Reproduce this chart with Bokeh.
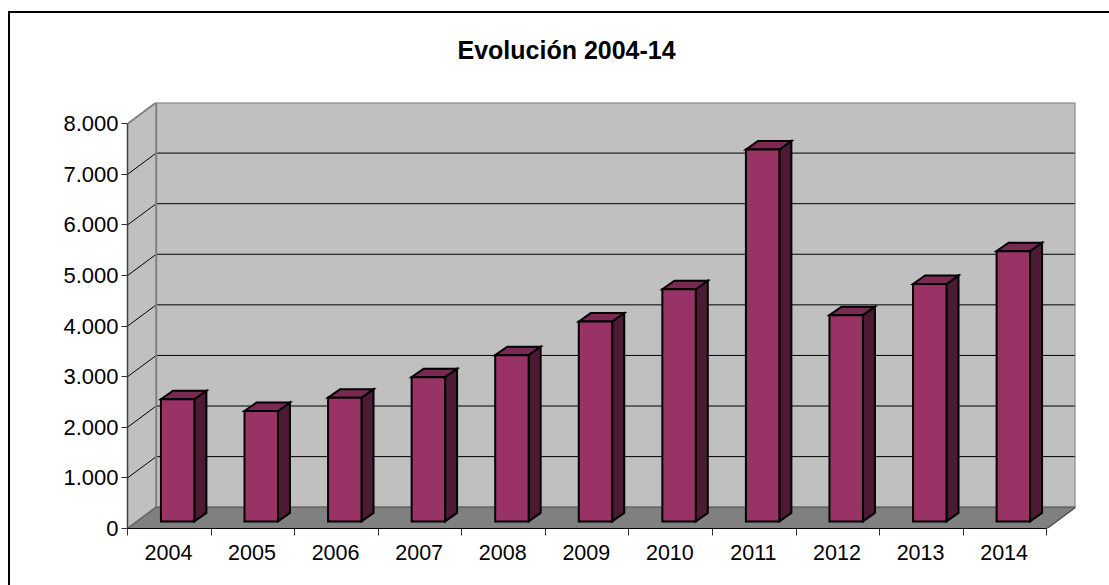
from bokeh.plotting import figure
from bokeh.embed import file_html
from bokeh.resources import INLINE
from bokeh.models import FixedTicker, Range1d, Title

years = ["2004", "2005", "2006", "2007", "2008", "2009", "2010", "2011", "2012", "2013", "2014"]
values = [2415, 2183, 2446, 2852, 3287, 3950, 4590, 7352, 4077, 4693, 5342]
y_ticks = [0, 1000, 2000, 3000, 4000, 5000, 6000, 7000, 8000]
y_labels = ["0", "1.000", "2.000", "3.000", "4.000", "5.000", "6.000", "7.000", "8.000"]
title = "Evolución 2004-14"

WALL_DX, WALL_DY = 0.344, 421
BAR_DX, BAR_DY = 0.144, 168
BASE_DX, BASE_DY = 0.10, 140
BAR_W = 0.40
n = len(years)
YMAX = y_ticks[-1]

p = figure(width=1109, height=585, output_backend="svg", toolbar_location=None,
           x_range=Range1d(0, n + WALL_DX), y_range=Range1d(0, YMAX + WALL_DY),
           frame_width=948, frame_height=426,
           min_border_left=127, min_border_right=34, min_border_top=102, min_border_bottom=57,
           tools="", title=title, background_fill_color="white", border_fill_color="white")
p.grid.visible = False
p.outline_line_color = None

p.title.text_font = "Liberation Sans"
p.title.text_font_style = "bold"
p.title.text_font_size = "25px"
p.title.text_color = "black"
p.title.align = "left"
p.title.offset = 330
p.title.standoff = 0
# blank strip between the title and the plot's frame
p.add_layout(Title(text=" ", text_font_size="10px", standoff=26), "above")

# walls and floor
GREY = "#C0C0C0"
EDGE = "#808080"
p.patches([[0, WALL_DX, WALL_DX, 0]], [[0, WALL_DY, YMAX + WALL_DY, YMAX]],
          fill_color=GREY, line_color=None)
p.quad(left=[WALL_DX], right=[n + WALL_DX], bottom=[WALL_DY], top=[YMAX + WALL_DY],
       fill_color=GREY, line_color=None)
p.patches([[0, n, n + WALL_DX, WALL_DX]], [[0, 0, WALL_DY, WALL_DY]],
          fill_color="#808080", line_color=None)

# gridlines
inner = y_ticks[1:-1]
p.multi_line([[0, WALL_DX, n + WALL_DX] for t in inner],
             [[t, t + WALL_DY, t + WALL_DY] for t in inner],
             line_color="black", line_width=1)

# wall edges
p.line([0, WALL_DX, n + WALL_DX, n + WALL_DX, n], [YMAX, YMAX + WALL_DY, YMAX + WALL_DY, WALL_DY, 0],
       line_color=EDGE, line_width=2)
p.line([WALL_DX, WALL_DX], [WALL_DY, YMAX + WALL_DY], line_color=EDGE, line_width=2)
p.line([0, WALL_DX, n + WALL_DX], [0, WALL_DY, WALL_DY], line_color="#6a6a6a", line_width=2)
p.line([n, n + WALL_DX], [0, WALL_DY], line_color="#404040", line_width=1)

# bars
lefts = [i + 0.5 + BASE_DX - BAR_W / 2 for i in range(n)]
rights = [l + BAR_W for l in lefts]
bottoms = [BASE_DY] * n
tops = [BASE_DY + v for v in values]
p.patches([[r, r + BAR_DX, r + BAR_DX, r] for r in rights],
          [[b, b + BAR_DY, t + BAR_DY, t] for b, t in zip(bottoms, tops)],
          fill_color="#4D1A33", line_color="black", line_width=2, line_join="miter")
p.patches([[l, l + BAR_DX, r + BAR_DX, r] for l, r in zip(lefts, rights)],
          [[t, t + BAR_DY, t + BAR_DY, t] for t in tops],
          fill_color="#7A2952", line_color="black", line_width=2, line_join="miter")
p.quad(left=lefts, right=rights, bottom=bottoms, top=tops,
       fill_color="#993366", line_color="black", line_width=2, line_join="miter")

# axes
ax = p.xaxis[0]
ax.ticker = FixedTicker(ticks=[i + 0.49 for i in range(n)], minor_ticks=list(range(n + 1)))
ax.major_label_overrides = {i + 0.49: y for i, y in enumerate(years)}
ax.bounds = (0, n)
ax.major_tick_out = 0
ax.major_tick_in = 0
ax.minor_tick_out = 7
ax.minor_tick_in = 0
ax.minor_tick_line_color = "#303030"
ax.axis_line_color = "black"
ax.major_label_standoff = 9
ax.major_label_text_font = "Liberation Sans"
ax.major_label_text_font_size = "21.5px"
ax.major_label_text_color = "black"

ay = p.yaxis[0]
ay.ticker = FixedTicker(ticks=y_ticks)
ay.major_label_overrides = dict(zip(y_ticks, y_labels))
ay.bounds = (0, YMAX)
ay.major_tick_out = 6
ay.major_tick_in = 0
ay.minor_tick_line_color = None
ay.axis_line_color = "#404040"
ay.axis_line_width = 1.5
ay.major_tick_line_color = "#303030"
ay.major_label_standoff = 3
ay.major_label_text_font = "Liberation Sans"
ay.major_label_text_font_size = "22px"
ay.major_label_text_color = "black"

# chart-area border, running off the page on the right and bottom
p.stylesheets = [""":host::after {
  content: ""; position: absolute; left: 8px; top: 11px; width: 1101px; height: 574px;
  box-sizing: border-box; border-left: 2px solid black; border-top: 2px solid black;
  pointer-events: none; z-index: 10;
}"""]

open("out.html", "w").write(file_html(p, INLINE))
